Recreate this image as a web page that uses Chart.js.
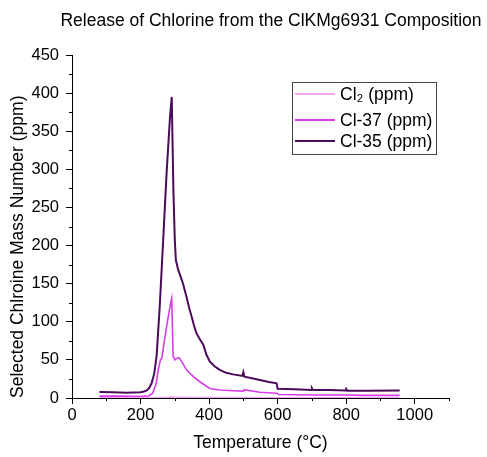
<!DOCTYPE html>
<html>
<head>
<meta charset="utf-8">
<script src="https://cdn.jsdelivr.net/npm/chart.js@4.4.1/dist/chart.umd.min.js"></script>
<style>
  html, body { margin: 0; padding: 0; background: #fff; }
  #wrap { width: 487px; height: 457px; }
</style>
</head>
<body>
<div id="wrap"><canvas id="chart" width="487" height="457"></canvas></div>
<script>
// chart text
const chartTitle = 'Release of Chlorine from the ClKMg6931 Composition';
const xTitle = 'Temperature (°C)';
const yTitle = 'Selected Chlroine Mass Number (ppm)';
const seriesLabels = ['Cl₂ (ppm)', 'Cl-37 (ppm)', 'Cl-35 (ppm)'];

// Cl2 (ppm) - stays near zero
const cl2Temp = [80, 200, 260, 280, 290, 300, 320, 400, 600, 956];
const cl2Vals = [0.3, 0.3, 0.5, 1, 1.5, 1, 0.8, 0.5, 0.3, 0.3];

// Cl-37 (ppm)
const cl37Temp = [80, 150, 200, 225, 235, 245, 252, 258, 262, 268, 276, 283, 288, 291, 295, 300, 305, 312,
                  320, 334, 354, 374, 402, 431, 470, 500, 502, 548, 597, 600, 603, 650, 700, 750, 800, 850, 900, 956];
const cl37Vals = [2.5, 2.5, 2, 3, 6, 18, 38, 50, 52, 70, 94, 112, 125, 131, 55, 50, 52, 53,
                  48, 37, 28, 21, 12.5, 10.5, 9.5, 9, 11, 7.5, 6.3, 6, 4.5, 4.2, 4, 4, 4, 3.5, 3.5, 3.5];

// Cl-35 (ppm)
const cl35Temp = [80, 120, 160, 200, 210, 218, 225, 232, 240, 247, 256, 266, 276, 286, 291, 296, 300, 303,
                  310, 318, 324, 334, 342, 349, 356, 363, 373, 383, 392, 402, 415, 431, 450, 470, 497, 500,
                  503, 525, 548, 575, 597, 600, 650, 698, 700, 703, 750, 798, 800, 803, 860, 956];
const cl35Vals = [8, 7.5, 7, 7.5, 8.5, 10, 13, 19, 32, 56, 120, 207, 295, 369, 395, 270, 207, 181,
                  168, 158, 150, 133, 118, 107, 95, 85, 77, 70, 57, 48, 42, 37, 33, 31, 29, 34,
                  28, 26, 23.6, 21, 19.3, 12, 11.5, 10.5, 13, 10.5, 10.5, 10, 12, 9.5, 9.6, 10];

// axis ticks
const xMajorTicks = [0, 200, 400, 600, 800, 1000];
const xMinorTicks = [100, 300, 500, 700, 900, 1100];
const yMajorTicks = [0, 50, 100, 150, 200, 250, 300, 350, 400, 450];
const yMinorTicks = [25, 75, 125, 175, 225, 275, 325, 375, 425];

const colors = ['#f2a6f4', '#d63ce8', '#4a0c5a'];
const lineWidths = [1.6, 1.6, 2];
const fontFamily = '"Liberation Sans", Arial, Helvetica, sans-serif';

function toPoints(xs, ys) {
    return xs.map((x, i) => ({ x: x, y: ys[i] }));
}

// title above the plot, minor ticks and the boxed legend
const extrasPlugin = {
    id: 'extras',
    afterDraw(chart) {
        const ctx = chart.ctx;
        const xs = chart.scales.x;
        const ys = chart.scales.y;
        const area = chart.chartArea;
        ctx.save();

        // title
        ctx.fillStyle = '#000';
        ctx.font = '17.5px ' + fontFamily;
        ctx.textAlign = 'center';
        ctx.textBaseline = 'middle';
        ctx.fillText(chartTitle, 271, 21);

        // minor ticks
        ctx.strokeStyle = '#000';
        ctx.lineWidth = 1;
        ctx.beginPath();
        xMinorTicks.forEach(v => {
            const px = Math.round(xs.getPixelForValue(v)) + 0.5;
            ctx.moveTo(px, area.bottom);
            ctx.lineTo(px, area.bottom + 3);
        });
        yMinorTicks.forEach(v => {
            const py = Math.round(ys.getPixelForValue(v)) + 0.5;
            ctx.moveTo(area.left, py);
            ctx.lineTo(area.left - 3, py);
        });
        ctx.stroke();

        // legend box
        const box = { left: 292.5, top: 82.5, right: 436.5, bottom: 154.5 };
        ctx.strokeStyle = '#444';
        ctx.lineWidth = 1;
        ctx.strokeRect(box.left, box.top, box.right - box.left, box.bottom - box.top);
        const rows = [94, 120, 141];
        ctx.font = '17.5px ' + fontFamily;
        ctx.textAlign = 'left';
        chart.data.datasets.forEach((ds, i) => {
            ctx.strokeStyle = ds.borderColor;
            ctx.lineWidth = 2;
            ctx.beginPath();
            ctx.moveTo(295, rows[i]);
            ctx.lineTo(335, rows[i]);
            ctx.stroke();
            ctx.fillStyle = '#000';
            ctx.fillText(ds.label, 340, rows[i] + 1);
        });
        ctx.restore();
    }
};

const ctx = document.getElementById('chart').getContext('2d');
const chart = new Chart(ctx, {
    type: 'line',
    data: {
        datasets: [
            { label: seriesLabels[0], data: toPoints(cl2Temp, cl2Vals), borderColor: colors[0], borderWidth: lineWidths[0] },
            { label: seriesLabels[1], data: toPoints(cl37Temp, cl37Vals), borderColor: colors[1], borderWidth: lineWidths[1] },
            { label: seriesLabels[2], data: toPoints(cl35Temp, cl35Vals), borderColor: colors[2], borderWidth: lineWidths[2] }
        ]
    },
    options: {
        responsive: false,
        animation: false,
        layout: { padding: { left: 0, right: 38, top: 55, bottom: 0 } },
        elements: {
            line: { tension: 0 },
            point: { radius: 0 }
        },
        plugins: {
            legend: { display: false },
            title: { display: false },
            tooltip: { enabled: false }
        },
        scales: {
            x: {
                type: 'linear',
                min: 0,
                max: 1100,
                afterBuildTicks: s => { s.ticks = xMajorTicks.map(v => ({ value: v })); },
                afterFit: s => { s.height = 59; },
                grid: { drawOnChartArea: false, drawTicks: true, tickLength: 6, tickColor: '#000' },
                border: { display: true, color: '#000', width: 1 },
                ticks: {
                    color: '#000', padding: 2, font: { family: fontFamily, size: 16.5 },
                    callback: v => String(v)
                },
                title: {
                    display: true, text: xTitle, color: '#000',
                    font: { family: fontFamily, size: 17.5 },
                    padding: { top: 0, bottom: 3.5 }
                }
            },
            y: {
                type: 'linear',
                min: 0,
                max: 450,
                afterBuildTicks: s => { s.ticks = yMajorTicks.map(v => ({ value: v })); },
                afterFit: s => { s.width = 72; },
                grid: { drawOnChartArea: false, drawTicks: true, tickLength: 6, tickColor: '#000' },
                border: { display: true, color: '#000', width: 1 },
                ticks: {
                    color: '#000', padding: 7, font: { family: fontFamily, size: 16.5 },
                    callback: v => String(v)
                },
                title: {
                    display: true, text: yTitle, color: '#000', align: 'start',
                    font: { family: fontFamily, size: 17.5 },
                    padding: { top: 7.5, bottom: 0 }
                }
            }
        }
    },
    plugins: [extrasPlugin]
});
</script>
</body>
</html>
